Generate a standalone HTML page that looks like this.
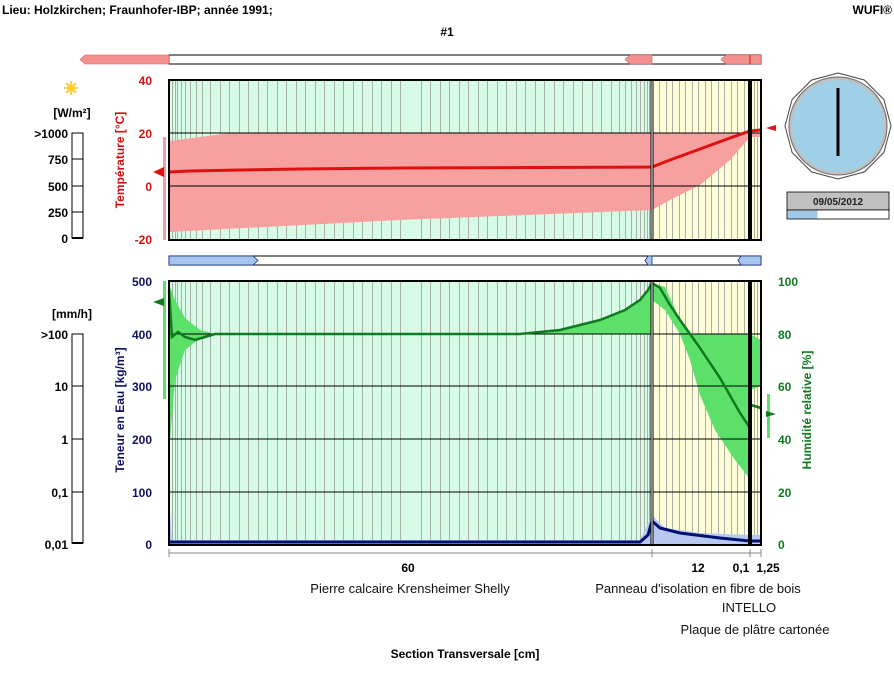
<!DOCTYPE html>
<html><head><meta charset="utf-8"><style>
body{margin:0;background:#fff;width:894px;height:679px;overflow:hidden}
svg{display:block;font-family:"Liberation Sans",Arial,sans-serif}
</style></head><body>
<svg id="s" width="894" height="679" xmlns="http://www.w3.org/2000/svg">
<rect width="894" height="679" fill="#fff"/>
<text x="2" y="14" font-size="12" font-weight="bold">Lieu: Holzkirchen; Fraunhofer-IBP; année 1991;</text>
<text x="892" y="14" font-size="12" font-weight="bold" text-anchor="end">WUFI®</text>
<text x="447" y="36" font-size="12" font-weight="bold" text-anchor="middle">#1</text>

<rect x="169" y="55" width="592" height="9" fill="#fff" stroke="#000"/>
<path d="M85,55 H169 V64 H85 L80,59.5 Z" fill="#f59090" stroke="#d06060" stroke-width="0.6"/>
<path d="M630,55 H652 V64 H630 L625,59.5 Z" fill="#f59090" stroke="#d06060" stroke-width="0.6"/>
<path d="M726,55 H761 V64 H726 L721,59.5 Z" fill="#f59090" stroke="#d06060" stroke-width="0.6"/>
<line x1="750" y1="55" x2="750" y2="64" stroke="#b00" stroke-width="0.8"/>
<rect x="169" y="256" width="592" height="9" fill="#fff" stroke="#000"/>
<path d="M169,256 H253 L258,260.5 L253,265 H169 Z" fill="#a6c4ee" stroke="#103080" stroke-width="0.8"/>
<path d="M648,256 H652 V265 H648 L645,260.5 Z" fill="#a6c4ee" stroke="#103080" stroke-width="0.8"/>
<path d="M741,256 H761 V265 H741 L738,260.5 Z" fill="#a6c4ee" stroke="#103080" stroke-width="0.8"/>

<rect x="169" y="80" width="483" height="160" fill="#d8fbe8"/>
<rect x="652" y="80" width="109" height="160" fill="#fffcd8"/>
<rect x="169" y="281" width="483" height="264" fill="#d8fbe8"/>
<rect x="652" y="281" width="109" height="264" fill="#fffcd8"/>
<g id="grid" stroke="#a8b0a8" stroke-width="1"></g>

<path d="M169,141 L200,137 L230,133 L652,133 L700,133 L750,133 L761,133 L761,137 L750,137 L730,160 L700,185 L670,200 L652,210 L400,220 L169,232 Z" fill="#f7a0a0"/>
<line x1="169" y1="133" x2="761" y2="133" stroke="#000" stroke-width="1"/>
<line x1="169" y1="186" x2="761" y2="186" stroke="#000" stroke-width="1"/>
<polyline points="169,172 190,171 240,170 300,169 400,168 652,167 670,160 700,149 730,138 750,131 761,130" fill="none" stroke="#e01010" stroke-width="3"/>

<path d="M169,284 L175,300 L185,318 L200,330 L215,334 L520,334 L560,330 L600,320 L630,308 L645,296 L652,283 L665,287 L680,320 L690,334 L750,334 L761,340 L761,386 L750,390 L750,479 L735,460 L715,430 L700,395 L690,360 L680,334 L665,310 L652,300 L652,334 L215,334 L200,338 L185,350 L175,380 L170,440 Z" fill="#5ce06a"/>
<g stroke="#000" stroke-width="1">
<line x1="169" y1="334" x2="761" y2="334"/><line x1="169" y1="386" x2="761" y2="386"/>
<line x1="169" y1="439" x2="761" y2="439"/><line x1="169" y1="492" x2="761" y2="492"/>
</g>
<polyline points="169,290 172,337 178,332 185,337 195,340 205,337 215,334 520,334 560,330 600,320 625,310 640,300 648,290 652,283 660,288 670,305 680,320 700,348 720,378 740,413 750,428" fill="none" stroke="#107a20" stroke-width="2.5"/>
<polyline points="751,405 761,408" fill="none" stroke="#107a20" stroke-width="2.5"/>
<path d="M169,500 L172,540 L640,540 L652,515 L665,528 L700,533 L750,535 L761,535 L761,545 L169,545 Z" fill="#b8c8f0"/>
<polyline points="169,542 640,542 648,535 652,521 660,528 680,533 720,538 750,541 761,541" fill="none" stroke="#001070" stroke-width="3"/>

<g stroke="#000">
<line x1="652" y1="80" x2="652" y2="240" stroke-width="3"/><line x1="652" y1="80" x2="652" y2="240" stroke="#fff" stroke-width="1"/>
<line x1="652" y1="281" x2="652" y2="545" stroke-width="3"/><line x1="652" y1="281" x2="652" y2="545" stroke="#fff" stroke-width="1"/>
<line x1="750" y1="80" x2="750" y2="240" stroke-width="4"/>
<line x1="750" y1="281" x2="750" y2="545" stroke-width="4"/>
<rect x="169" y="80" width="592" height="160" fill="none" stroke-width="2"/>
<rect x="169" y="281" width="592" height="264" fill="none" stroke-width="2"/>
</g>

<g font-size="12" font-weight="bold" fill="#d01010" text-anchor="end">
<text x="152" y="85">40</text><text x="152" y="138">20</text><text x="152" y="191">0</text><text x="152" y="244">-20</text>
</g>
<text transform="translate(124,160) rotate(-90)" font-size="12" font-weight="bold" fill="#d01010" text-anchor="middle">Température [°C]</text>
<rect x="163" y="137" width="3" height="103" fill="#f0a0a0"/>
<path d="M153,172 L164,167 L164,177 Z" fill="#e01010"/>
<path d="M776,125 L766,128 L776,131 Z" fill="#e01010"/>

<g stroke="#f8c020" stroke-width="1.5"><line x1="64" y1="88" x2="78" y2="88"/><line x1="71" y1="81" x2="71" y2="95"/><line x1="66" y1="83" x2="76" y2="93"/><line x1="76" y1="83" x2="66" y2="93"/></g>
<circle cx="71" cy="88" r="4" fill="#ffd030"/>
<text x="72" y="117" font-size="12" font-weight="bold" text-anchor="middle">[W/m²]</text>
<rect x="72" y="133" width="11" height="105" fill="#fff" stroke="#000"/>
<line x1="72" y1="238" x2="83" y2="238" stroke="#000" stroke-width="2"/>
<g font-size="12" font-weight="bold" text-anchor="end">
<text x="68" y="138">&gt;1000</text><text x="68" y="164">750</text><text x="68" y="191">500</text><text x="68" y="217">250</text><text x="68" y="243">0</text>
</g>
<g stroke="#000"><line x1="72" y1="159" x2="83" y2="159"/><line x1="72" y1="186" x2="83" y2="186"/><line x1="72" y1="212" x2="83" y2="212"/></g>

<text x="72" y="318" font-size="12" font-weight="bold" text-anchor="middle">[mm/h]</text>
<rect x="72" y="334" width="11" height="209" fill="#fff" stroke="#000"/>
<line x1="72" y1="543" x2="83" y2="543" stroke="#000" stroke-width="2"/>
<g stroke="#000"><line x1="72" y1="386" x2="83" y2="386"/><line x1="72" y1="439" x2="83" y2="439"/><line x1="72" y1="492" x2="83" y2="492"/></g>
<g font-size="12" font-weight="bold" text-anchor="end">
<text x="68" y="339">&gt;100</text><text x="68" y="391">10</text><text x="68" y="444">1</text><text x="68" y="497">0,1</text><text x="68" y="549">0,01</text>
</g>

<g font-size="12" font-weight="bold" fill="#101060" text-anchor="end">
<text x="152" y="286">500</text><text x="152" y="339">400</text><text x="152" y="391">300</text><text x="152" y="444">200</text><text x="152" y="497">100</text><text x="152" y="549">0</text>
</g>
<text transform="translate(124,410) rotate(-90)" font-size="12" font-weight="bold" fill="#101060" text-anchor="middle">Teneur en Eau [kg/m³]</text>
<rect x="163" y="281" width="3" height="118" fill="#5ce06a"/>
<path d="M153,302 L164,298 L164,306 Z" fill="#107a20"/>
<rect x="767" y="394" width="3" height="44" fill="#5ce06a"/>
<path d="M776,414 L766,411 L766,417 Z" fill="#107a20"/>

<g font-size="12" font-weight="bold" fill="#107a20">
<text x="778" y="286">100</text><text x="778" y="339">80</text><text x="778" y="391">60</text><text x="778" y="444">40</text><text x="778" y="497">20</text><text x="778" y="549">0</text>
</g>
<text transform="translate(811,410) rotate(-90)" font-size="12" font-weight="bold" fill="#107a20" text-anchor="middle">Humidité relative [%]</text>

<g stroke="#888" stroke-width="1"><line x1="169" y1="553" x2="761" y2="553"/>
<line x1="169" y1="549" x2="169" y2="557"/><line x1="652" y1="549" x2="652" y2="557"/><line x1="750" y1="549" x2="750" y2="557"/><line x1="761" y1="549" x2="761" y2="557"/></g>
<g font-size="12" font-weight="bold" text-anchor="middle">
<text x="408" y="572">60</text><text x="698" y="572">12</text><text x="741" y="572">0,1</text><text x="768" y="572">1,25</text>
<text x="465" y="658">Section Transversale [cm]</text>
</g>
<g font-size="13" text-anchor="middle" fill="#111">
<text x="410" y="593">Pierre calcaire Krensheimer Shelly</text>
<text x="698" y="593">Panneau d'isolation en fibre de bois</text>
<text x="749" y="612">INTELLO</text>
<text x="755" y="634">Plaque de plâtre cartonée</text>
</g>

<g id="clk"></g>
<rect x="787" y="192" width="102" height="18" fill="#c0c0c0" stroke="#000" stroke-width="0.8"/>
<text x="838" y="205" font-size="10" font-weight="bold" text-anchor="middle" fill="#222">09/05/2012</text>
<rect x="787" y="210" width="102" height="9" fill="#fff" stroke="#000" stroke-width="0.8"/>
<rect x="787.5" y="210.5" width="30" height="8" fill="#a0c8e8"/>
</svg>
<script>
var ns="http://www.w3.org/2000/svg",g=document.getElementById('grid');
function L(x,y1,y2){var l=document.createElementNS(ns,'line');l.setAttribute('x1',x);l.setAttribute('x2',x);l.setAttribute('y1',y1);l.setAttribute('y2',y2);g.appendChild(l);}
var xs=[],x=172,d=2.5;while(x<408){xs.push(x);x+=d;d=Math.min(d*1.18,9.5);}
var half=xs.slice();half.forEach(function(v){xs.push(652-(v-169));});
for(var v=659;v<747;v+=6.5)xs.push(v);xs.push(754,757);
xs.forEach(function(v){L(Math.round(v)+.5,81,239);L(Math.round(v)+.5,282,544);});
var c=document.getElementById('clk'),cx=838,cy=126,s='';
var pts=[];for(var i=0;i<12;i++){var a=i*Math.PI/6-Math.PI/2;pts.push((cx+53*Math.cos(a)).toFixed(1)+','+(cy+53*Math.sin(a)).toFixed(1));}
s+='<polygon points="'+pts.join(' ')+'" fill="#fff" stroke="#444"/>';
s+='<circle cx="'+cx+'" cy="'+cy+'" r="49" fill="#c0c0c0" stroke="#666"/>';
s+='<circle cx="'+cx+'" cy="'+cy+'" r="46" fill="#a0cfe8"/>';
s+='<line x1="'+cx+'" y1="'+(cy-38)+'" x2="'+cx+'" y2="'+(cy+30)+'" stroke="#000" stroke-width="3"/>';
c.innerHTML=s;
</script>
</body></html>
